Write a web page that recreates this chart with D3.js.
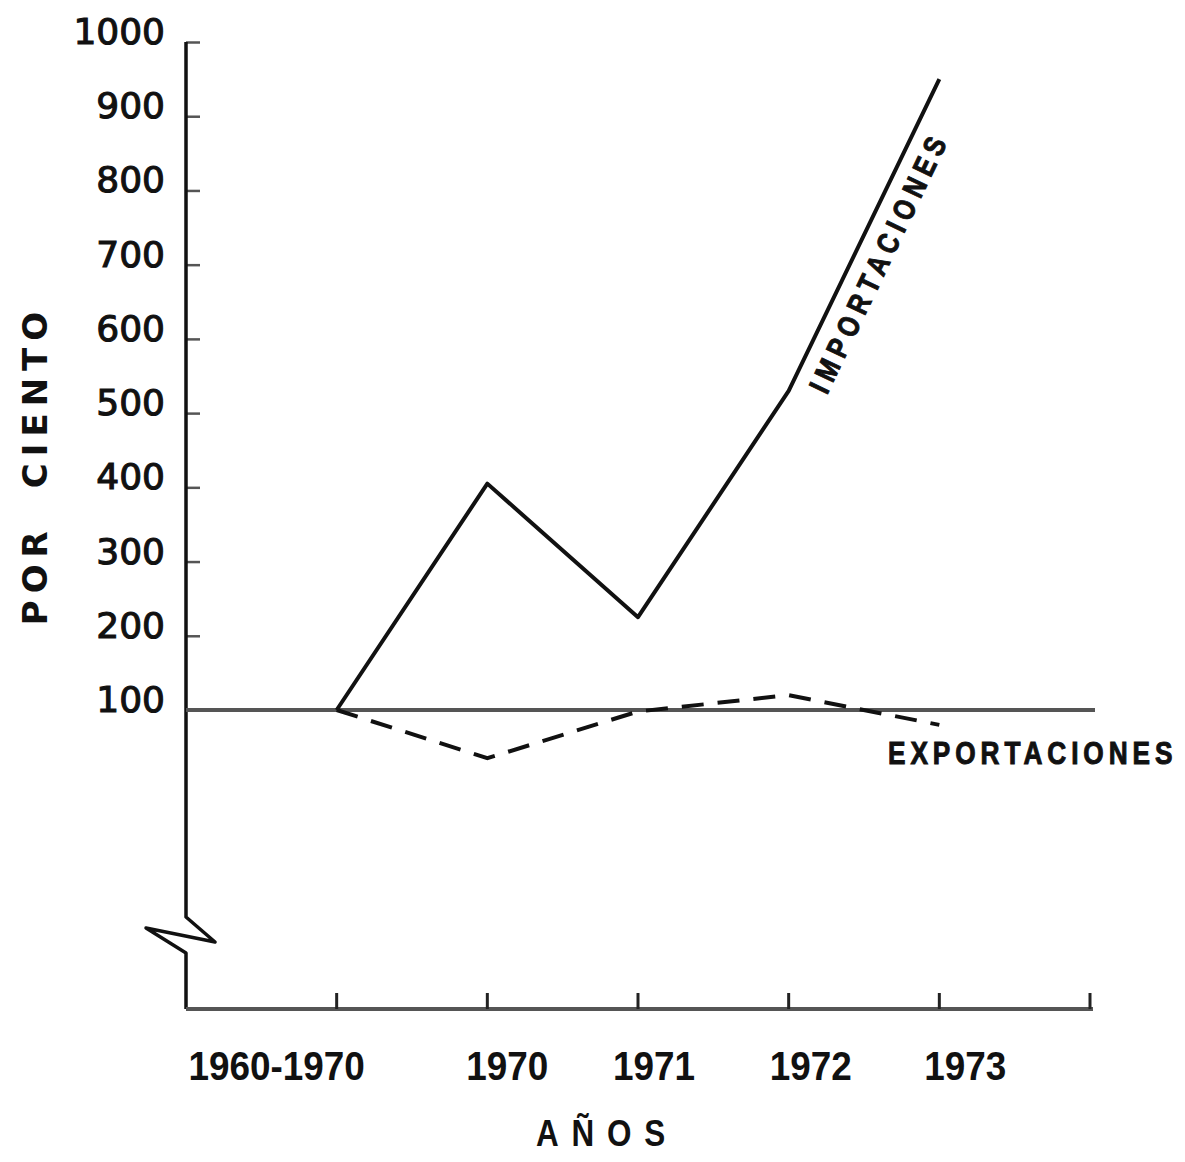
<!DOCTYPE html>
<html lang="es">
<head>
<meta charset="UTF-8">
<title>Importaciones y exportaciones - por ciento</title>
<script src="https://d3js.org/d3.v7.min.js"></script>
<style>
    body {
        margin: 0;
        background: #fff;
    }

    svg text {
        fill: #111;
    }

    .round {
        font-family: "DejaVu Sans", sans-serif;
    }

    .narrow {
        font-family: "Liberation Sans", Arial, sans-serif;
        font-weight: bold;
    }

    .heavy {
        stroke: #111;
        stroke-width: 1;
    }
</style>
</head>
<body>
<svg id="chart" width="1185" height="1162"></svg>
<script>
    // values (index, 1960-1970 = 100)
    let periods = ["1960-1970", "1970", "1971", "1972", "1973"]
    let importaciones = [100, 405, 225, 530, 950]
    let exportaciones = [100, 35, 98, 120, 80]
    let yTicks = [100, 200, 300, 400, 500, 600, 700, 800, 900, 1000]

    // label nudges, the hand lettering is not centred on the ticks
    let labelShift = [-60, 20, 16, 22, 26]

    let svg = d3.select("#chart")
    let axisX = 186
    let bottomY = 1009
    let rightX = 1090

    let x = d3.scalePoint()
        .domain(["origin"].concat(periods).concat(["end"]))
        .range([axisX, rightX])

    let y = d3.scaleLinear()
        .domain([100, 1000])
        .range([710, 42])

    // y axis, ticks pointing right, no domain path
    let yAxis = svg.append("g")
        .attr("transform", `translate(${axisX},0)`)
        .call(d3.axisLeft(y).tickValues(yTicks).tickFormat(d => String(d))
            .tickSizeInner(-14).tickSizeOuter(0).tickPadding(21))
    yAxis.select(".domain").remove()
    yAxis.selectAll(".tick line").attr("stroke", "#555").attr("stroke-width", 2.5)
    yAxis.selectAll(".tick text")
        .attr("class", "round")
        .attr("font-size", 36)
        .attr("dy", "0.04em")
        .attr("fill", "#111")
        .attr("stroke", "#111")
        .attr("stroke-width", 1.1)

    // vertical axis with the break
    let breakTop = 917
    let breakBottom = 953
    svg.append("path")
        .attr("d", `M${axisX},${y(1000)} L${axisX},${breakTop} L${axisX + 29},${breakTop + 25} L${axisX - 40},${breakTop + 11} L${axisX},${breakBottom} L${axisX},${bottomY}`)
        .attr("fill", "none")
        .attr("stroke", "#111")
        .attr("stroke-width", 3.5)
        .attr("stroke-linejoin", "round")

    // horizontal axis
    svg.append("line")
        .attr("x1", axisX).attr("x2", rightX + 3)
        .attr("y1", bottomY).attr("y2", bottomY)
        .attr("stroke", "#555").attr("stroke-width", 4)

    svg.selectAll(".xtick")
        .data(periods.concat(["end"]))
        .enter()
        .append("line")
        .attr("class", "xtick")
        .attr("x1", d => x(d)).attr("x2", d => x(d))
        .attr("y1", bottomY).attr("y2", bottomY - 16)
        .attr("stroke", "#222").attr("stroke-width", 3)

    svg.selectAll(".xlabel")
        .data(periods)
        .enter()
        .append("text")
        .attr("class", "narrow")
        .attr("transform", (d, i) => `translate(${x(d) + labelShift[i]},1080) scale(0.9,1)`)
        .attr("text-anchor", "middle")
        .attr("font-size", 41)
        .text(d => d)

    // 100 reference line
    svg.append("line")
        .attr("x1", axisX).attr("x2", rightX + 5)
        .attr("y1", y(100)).attr("y2", y(100))
        .attr("stroke", "#555").attr("stroke-width", 4)

    let line = d3.line()
        .x((d, i) => x(periods[i]))
        .y(d => y(d))

    svg.append("path")
        .datum(exportaciones)
        .attr("d", line)
        .attr("fill", "none")
        .attr("stroke", "#111")
        .attr("stroke-width", 4)
        .attr("stroke-dasharray", "22,14")

    svg.append("path")
        .datum(importaciones)
        .attr("d", line)
        .attr("fill", "none")
        .attr("stroke", "#111")
        .attr("stroke-width", 4)
        .attr("stroke-linejoin", "round")

    // series labels
    svg.append("text")
        .attr("class", "narrow heavy")
        .attr("transform", "translate(888,764) scale(0.82,1)")
        .attr("font-size", 32)
        .attr("letter-spacing", 6)
        .text("EXPORTACIONES")

    svg.append("text")
        .attr("class", "narrow heavy")
        .attr("transform", "translate(879,262) rotate(-64.5) scale(0.82,1)")
        .attr("text-anchor", "middle")
        .attr("dy", "0.35em")
        .attr("font-size", 30)
        .attr("letter-spacing", 7.5)
        .text("IMPORTACIONES")

    // axis titles
    let yTitle = svg.append("text")
        .attr("class", "round")
        .attr("font-weight", "bold")
        .attr("transform", "translate(47,465) rotate(-90)")
        .attr("text-anchor", "middle")
        .attr("font-size", 34)
        .attr("letter-spacing", 7)
    yTitle.append("tspan").text("POR")
    yTitle.append("tspan").attr("dx", 36).text("CIENTO")

    svg.append("text")
        .attr("class", "narrow")
        .attr("transform", "translate(607,1146) scale(0.85,1)")
        .attr("text-anchor", "middle")
        .attr("font-size", 37)
        .attr("font-weight", "normal")
        .attr("letter-spacing", 15)
        .text("AÑOS")
</script>
</body>
</html>
